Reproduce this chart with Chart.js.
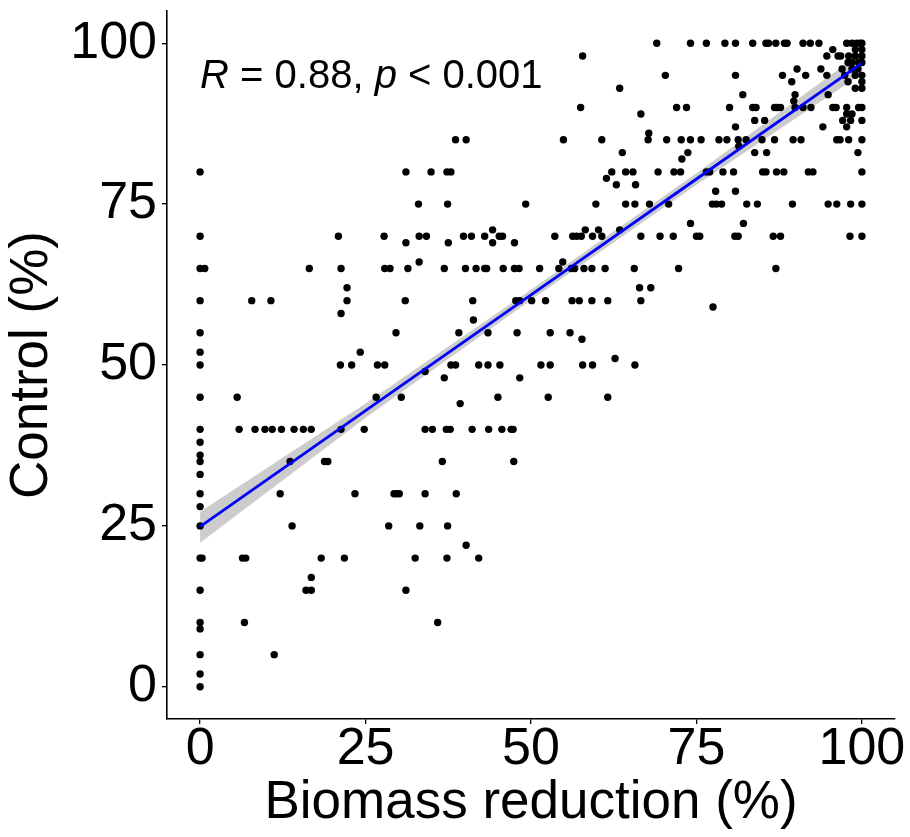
<!DOCTYPE html>
<html>
<head>
<meta charset="utf-8">
<script src="https://cdn.jsdelivr.net/npm/chart.js"></script>
<style>
  html, body { margin: 0; padding: 0; background: #fff; }
</style>
</head>
<body>
<canvas id="mycanvas" width="910" height="837"></canvas>
<script>
// control (%) levels, and the biomass reduction (%) of every point on that level
var controlLevels = [100, 99, 98, 97, 96, 95, 94, 93, 92, 91, 90, 89, 88, 87, 86, 85, 84, 83, 82, 80,
  79, 78, 77, 75, 72, 71, 70, 69, 66, 65, 62, 60, 59, 58, 57, 55, 54, 52, 51, 50,
  49, 48, 45, 44, 40, 38, 36, 35, 33, 30, 28, 25, 22, 20, 17, 15, 10, 9, 5, 2, 0];

var biomassAtLevel = [
  [69.0, 74.1, 76.5, 79.3, 80.9, 83.5, 85.5, 85.9, 87.0, 88.3, 88.7, 91.1, 92.2, 93.5, 97.7, 98.5, 99.2, 99.7, 100],
  [95.6, 99, 100],
  [57.8, 94.7, 96.4, 96.8, 98, 99, 100],
  [97.9, 98.5, 99.5, 100],
  [90.2, 93.8, 97, 98.5, 99.4],
  [70.3, 80.9, 88, 91.5, 94.7, 97.4, 99, 100],
  [89.4, 97.9, 100],
  [63.4, 99, 100],
  [82, 89.9, 94.9],
  [89.7],
  [57.5, 72, 73.5, 80, 83.5, 84, 86.8, 87.2, 87.7, 89.9, 91.1, 92.3, 95.6, 96.1, 97.7, 99.5, 100],
  [66.6, 97.7, 98.5],
  [83.8, 85.3, 97.1, 98.3, 100],
  [80.9, 94.1, 97.7],
  [67.8],
  [38.6, 40.2, 54.9, 60.7, 67.7, 70.5, 72.7, 74.1, 75.7, 78.4, 79.6, 81.3, 82.5, 84.9, 86.8, 89.6, 90.8, 96.2, 96.7, 98, 100],
  [81.4],
  [63.8, 73.7, 83.8, 85.6, 99.4],
  [72.8],
  [0, 31.1, 34.9, 37.3, 37.9, 62.2, 64.3, 65.4, 69.2, 71.6, 72.6, 76.5, 77, 79, 80.6, 85, 85.5, 87.1, 88.2, 91.9, 92.6, 100],
  [61.4],
  [62.9, 65.8],
  [77.9, 80.9],
  [33, 37.4, 49.2, 59.8, 64.3, 65.7, 67.9, 70.8, 77.4, 78, 78.8, 82.6, 84.2, 89.5, 94.9, 96.2, 98.3, 100],
  [74.1, 82.1],
  [44.2, 58.2, 60.2, 63.4],
  [0, 20.9, 27.8, 33.1, 34.2, 39.8, 41, 43, 45.2, 45.7, 53.6, 56.3, 56.9, 57.6, 59.3, 60.7, 66.6, 69.5, 71.5, 75, 75.5, 80.8, 81.3, 86.6, 87.7, 98.2, 100],
  [31.1, 37.5, 44.2, 47.5],
  [33.1, 54.8],
  [0, 0.7, 16.5, 21.3, 27.9, 28.7, 31.4, 36.9, 40.1, 41.7, 43, 43.3, 45.8, 47.5, 48.2, 51.3, 54.2, 56.1, 56.6, 58, 59.2, 61.2, 65.6, 72.3, 87],
  [22.2, 66.4, 68.1],
  [0, 7.8, 10.7, 22.2, 31, 41.2, 47.7, 48.3, 50.1, 52.2, 56.2, 57.3, 59.2, 61.6, 66.6],
  [77.5],
  [21.3],
  [41.3],
  [0, 29.6, 39.1, 43.5, 47.9, 52.9, 55.9],
  [57.7],
  [0, 24.2],
  [62.7],
  [0, 21.2, 22.9, 26.8, 27.9, 37.9, 38.6, 42.1, 43.5, 45.3, 51.5, 52.9, 57.8, 59.3, 65.7],
  [34],
  [36.9, 48.3],
  [0, 5.6, 26.6, 30.4, 45, 52.6, 61.6],
  [39.3],
  [0, 5.9, 8.3, 9.8, 10.9, 12.3, 14.2, 15.6, 16.8, 21.3, 24.8, 34, 35.1, 37.2, 37.8, 41.1, 43.6, 45.6, 47, 47.3],
  [0],
  [0],
  [0, 13.6, 18.8, 19.3, 36.6, 47.4],
  [0],
  [0, 12.1, 23.4, 29.3, 29.7, 30.1, 34, 38.7],
  [0],
  [0, 13.9, 28.5, 33.2, 37.4],
  [40.2],
  [0, 0.3, 6.4, 6.9, 18.3, 21.8, 32.5, 37.3, 42.1],
  [16.8],
  [0, 16, 16.8, 31.1],
  [0, 6.7, 35.9],
  [0],
  [0, 11.2],
  [0],
  [0]
];

// regression line and its confidence band
var fitX = [0, 25, 50, 75, 100];
var fitY = [24.9, 42.9, 60.9, 78.9, 96.9];
var bandLow = [22.4, 41.8, 60.1, 78.0, 95.2];
var bandHigh = [27.2, 44.0, 61.7, 79.8, 98.6];

var axisTicks = [0, 25, 50, 75, 100];

var punkty = [];
for (var i = 0; i < controlLevels.length; i++) {
  for (var j = 0; j < biomassAtLevel[i].length; j++) {
    punkty.push({ x: biomassAtLevel[i][j], y: controlLevels[i] });
  }
}
function pary(xs, ys) {
  return xs.map(function (x, k) { return { x: x, y: ys[k] }; });
}

var fontName = "'Liberation Sans', Arial, sans-serif";

var corLabel = {
  id: 'corLabel',
  afterDraw: function (chart) {
    var ctx = chart.ctx;
    var x = chart.scales.x.getPixelForValue(0);
    var y = chart.scales.y.getPixelForValue(93);
    var parts = [['italic', 'R'], ['normal', ' = 0.88, '], ['italic', 'p'], ['normal', ' < 0.001']];
    ctx.save();
    ctx.fillStyle = '#000';
    ctx.textBaseline = 'alphabetic';
    parts.forEach(function (p) {
      ctx.font = p[0] + ' 40px ' + fontName;
      ctx.fillText(p[1], x, y);
      x += ctx.measureText(p[1]).width;
    });
    ctx.restore();
  }
};

function osie(title, titleSize, titlePad) {
  return {
    type: 'linear',
    min: -5,
    max: 105,
    afterBuildTicks: function (scale) {
      scale.ticks = axisTicks.map(function (v) { return { value: v }; });
    },
    border: { display: true, color: '#000', width: 1.6 },
    grid: { drawOnChartArea: false, drawTicks: true, tickLength: 5, color: '#000', lineWidth: 1.3 },
    ticks: { color: '#000', font: { family: fontName, size: 52, lineHeight: 1 }, padding: 5, maxRotation: 0 },
    title: { display: true, text: title, color: '#000', font: { family: fontName, size: titleSize }, padding: titlePad }
  };
}

var xAxis = osie('Biomass reduction (%)', 53, { top: 0, bottom: 2 });
xAxis.ticks.padding = 0;
xAxis.afterFit = function (scale) {
  scale.height = 118;
  scale.paddingLeft = 0;
  scale.paddingRight = 0;
};
var yAxis = osie('Control (%)', 53, { top: 1, bottom: 0 });
yAxis.afterFit = function (scale) {
  scale.width = 167;
  scale.paddingTop = 0;
  scale.paddingBottom = 0;
};

var ctx = document.getElementById('mycanvas');
var wykres = new Chart(ctx, {
  type: 'scatter',
  data: {
    datasets: [
      { label: 'low', type: 'line', data: pary(fitX, bandLow), borderWidth: 0, pointRadius: 0, fill: false, order: 4 },
      { label: 'high', type: 'line', data: pary(fitX, bandHigh), borderWidth: 0, pointRadius: 0, fill: '-1',
        backgroundColor: 'rgba(153,153,153,0.5)', order: 3 },
      { label: 'points', data: punkty, pointRadius: 3.7, backgroundColor: '#000', borderWidth: 0, order: 2 },
      { label: 'fit', type: 'line', data: pary(fitX, fitY), borderColor: '#0000ff', borderWidth: 2.8,
        pointRadius: 0, fill: false, order: 1 }
    ]
  },
  options: {
    responsive: false,
    devicePixelRatio: 1,
    animation: false,
    layout: { padding: { top: 11, right: 15, left: 0, bottom: 0 } },
    plugins: { legend: { display: false }, tooltip: { enabled: false } },
    scales: { x: xAxis, y: yAxis }
  },
  plugins: [corLabel]
});
</script>
</body>
</html>
